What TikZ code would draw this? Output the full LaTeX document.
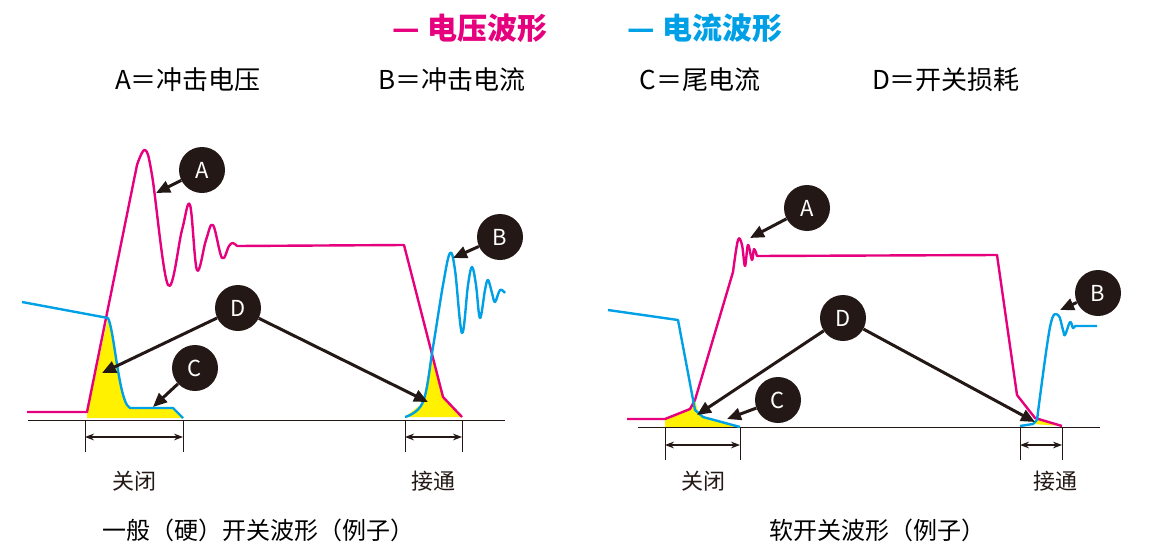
\documentclass[tikz,border=0pt]{standalone}
\usepackage{fontspec}
\setmainfont{Noto Sans CJK SC}
\usetikzlibrary{arrows.meta}
\definecolor{wavemag}{RGB}{230, 0, 126}
\definecolor{waveblue}{RGB}{0, 160, 230}
\definecolor{lossyellow}{RGB}{255, 241, 0}
\definecolor{markdark}{RGB}{35, 24, 21}
\tikzset{
    magwave/.style={line width=2.4pt, color=wavemag, line join=round},
    bluewave/.style={line width=2.4pt, color=waveblue, line join=round},
    circlelbl/.style={circle, fill=markdark, minimum size=46pt, inner sep=0pt, text=white, font=\fontsize{22}{22}\selectfont},
    callout/.style={line width=3pt, color=markdark, -{Triangle[length=14pt,width=12pt]}, shorten >=0pt},
    dimline/.style={line width=1.2pt, color=markdark, {Stealth[length=9pt]}-{Stealth[length=9pt]}},
    tickline/.style={line width=1pt, color=markdark},
    txt/.style={font=\fontsize{22}{22}\selectfont, text=markdark},
}

\begin{document}
\begin{tikzpicture}[x=1pt, y=-1pt]
    \useasboundingbox (0,0) rectangle (1151,554);

    % Title and legend
    \node[font=\fontsize{30}{30}\selectfont\bfseries, text=wavemag] (ttlv) at (470,28) {— 电压波形};
    \node[font=\fontsize{30}{30}\selectfont\bfseries, text=waveblue] (ttli) at (705,28) {— 电流波形};
    \node[font=\fontsize{26}{26}\selectfont, text=black] (lgA) at (188,80) {A＝冲击电压};
    \node[font=\fontsize{26}{26}\selectfont, text=black] (lgB) at (452,80) {B＝冲击电流};
    \node[font=\fontsize{26}{26}\selectfont, text=black] (lgC) at (700,80) {C＝尾电流};
    \node[font=\fontsize{26}{26}\selectfont, text=black] (lgD) at (946,80) {D＝开关损耗};

    % ---- Hard switching ----
    % Loss areas
    \fill[lossyellow] (87,413) -- (108,318) .. controls (114,330) and (118,390) .. (127,405) -- (130,408) -- (173,408) -- (183,418) -- (87,418) -- cycle;
    \fill[lossyellow] (432,352) -- (443,397) -- (462,417) -- (405,417) .. controls (412,411) and (420,406) .. (423,402) -- cycle;
    % Baseline
    \draw[tickline] (28,420) -- (505,420);
    % Voltage
    \draw[magwave] (27,412) -- (87,412) -- (137,165)
        plot[smooth, tension=0.6] coordinates {(137,165) (145,150) (152,175) (168,285) (182,230) (190,205) (197,270) (206,240) (213,225) (222,258) (229,246) (233,243) (237,246)}
        -- (404,245) -- (443,397) -- (462,417);
    % Current
    \draw[bluewave] (22,302) -- (108,318) .. controls (114,330) and (118,390) .. (127,405) -- (130,408) -- (173,408) -- (183,418);
    \draw[bluewave] plot[smooth, tension=0.6] coordinates {(405,417) (423,402) (433,347) (443,285) (450,253) (455,270) (462,333) (468,285) (472,267) (476,285) (480,318) (485,290) (488,280) (492,293) (495,302) (500,290) (505,293)};
    % Time spans
    \draw[tickline] (85,420) -- (85,452);
    \draw[tickline] (183,420) -- (183,452);
    \draw[tickline] (405,420) -- (405,452);
    \draw[tickline] (462,420) -- (462,452);
    \coordinate (hoffl) at (85,437);
    \coordinate (hoffr) at (183,437);
    \coordinate (honl) at (405,437);
    \coordinate (honr) at (462,437);
    \draw[dimline] (hoffl) -- (hoffr);
    \draw[dimline] (honl) -- (honr);
    \node[txt] (hofftxt) at (134,481) {关闭};
    \node[txt] (hontxt) at (433,481) {接通};
    % Markers
    \node[circlelbl] (hA) at (202,170) {A};
    \node[circlelbl] (hB) at (500,237) {B};
    \node[circlelbl] (hD) at (238,308) {D};
    \node[circlelbl] (hC) at (195,368) {C};
    \coordinate (hAp) at (156,193);
    \coordinate (hBp) at (453,258);
    \coordinate (hD1) at (102,373);
    \coordinate (hD2) at (428,402);
    \coordinate (hCp) at (153,407);
    \draw[callout] (hA) -- (hAp);
    \draw[callout] (hB) -- (hBp);
    \draw[callout] (hD) -- (hD1);
    \draw[callout] (hD) -- (hD2);
    \draw[callout] (hC) -- (hCp);
    \node[font=\fontsize{24}{24}\selectfont, text=black] (hcap) at (258,530) {一般（硬）开关波形（例子）};

    % ---- Soft switching ----
    % Loss areas
    \fill[lossyellow] (665,419) -- (690,409) -- (695,400) -- (698,412) -- (703,417) -- (740,427) -- (665,427) -- cycle;
    \fill[lossyellow] (1033,424) -- (1037,420) -- (1040,419) -- (1062,426) -- cycle;
    % Baseline
    \draw[tickline] (638,427) -- (1100,427);
    % Voltage
    \draw[magwave] (627,419) -- (665,419) -- (690,409) -- (695,400) -- (733,272)
        plot[smooth, tension=0.6] coordinates {(733,272) (738,240) (742,245) (745,266) (748,245) (752,260) (754,249) (757,256)}
        -- (997,255) -- (1017,395) -- (1035,418) -- (1062,426);
    % Current
    \draw[bluewave] (608,310) -- (678,320) -- (695,410) -- (703,417) -- (740,427);
    \draw[bluewave] (1020,426) -- (1033,424) -- (1037,420)
        plot[smooth, tension=0.6] coordinates {(1037,420) (1050,327) (1058,315) (1063,330) (1065,335) (1070,322) (1073,328) (1075,326)}
        -- (1097,326);
    % Time spans
    \draw[tickline] (665,427) -- (665,460);
    \draw[tickline] (740,427) -- (740,460);
    \draw[tickline] (1020,427) -- (1020,460);
    \draw[tickline] (1062,427) -- (1062,460);
    \coordinate (soffl) at (665,445);
    \coordinate (soffr) at (740,445);
    \coordinate (sonl) at (1020,445);
    \coordinate (sonr) at (1062,445);
    \draw[dimline] (soffl) -- (soffr);
    \draw[dimline] (sonl) -- (sonr);
    \node[txt] (sofftxt) at (703,481) {关闭};
    \node[txt] (sontxt) at (1055,481) {接通};
    % Markers
    \node[circlelbl] (sA) at (807,208) {A};
    \node[circlelbl] (sB) at (1098,293) {B};
    \node[circlelbl] (sD) at (843,318) {D};
    \node[circlelbl] (sC) at (778,400) {C};
    \coordinate (sAp) at (750,238);
    \coordinate (sBp) at (1060,310);
    \coordinate (sD1) at (697,415);
    \coordinate (sD2) at (1035,422);
    \coordinate (sCp) at (727,419);
    \draw[callout] (sA) -- (sAp);
    \draw[callout] (sB) -- (sBp);
    \draw[callout] (sD) -- (sD1);
    \draw[callout] (sD) -- (sD2);
    \draw[callout] (sC) -- (sCp);
    \node[font=\fontsize{24}{24}\selectfont, text=black] (scap) at (877,530) {软开关波形（例子）};
\end{tikzpicture}
\end{document}
